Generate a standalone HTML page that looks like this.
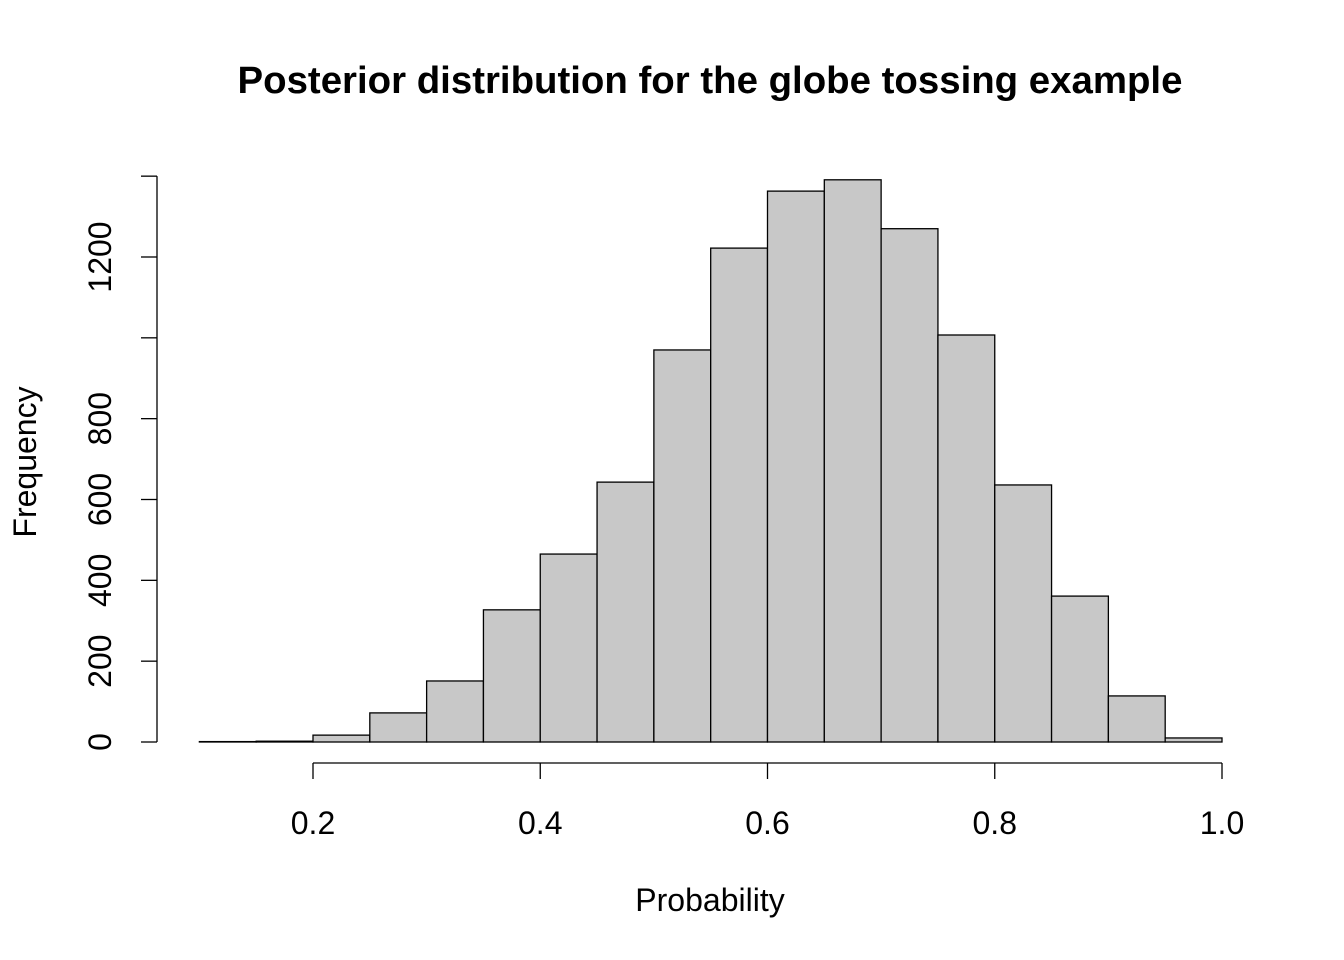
<!DOCTYPE html>
<html><head><meta charset="utf-8"><style>
body{margin:0;background:#fff;}
svg{display:block;font-family:"Liberation Sans",Arial,sans-serif;}
</style></head><body>
<svg id="chart" width="1344" height="960">
<text x="710" y="93" text-anchor="middle" font-size="38.4" font-weight="bold">Posterior distribution for the globe tossing example</text>
<text x="710" y="911" text-anchor="middle" font-size="32">Probability</text>
<text transform="translate(36,462) rotate(-90)" text-anchor="middle" font-size="32">Frequency</text>
<g id="bars"></g><g id="axes"></g>
</svg>
<script>
const binStarts=[0.10,0.15,0.20,0.25,0.30,0.35,0.40,0.45,0.50,0.55,0.60,0.65,0.70,0.75,0.80,0.85,0.90,0.95];
const counts=[1,2,17,72,151,327,465,643,970,1222,1363,1391,1270,1007,636,361,114,10];
const binWidth=0.05;
const xTicks=[0.2,0.4,0.6,0.8,1.0];
const xTickLabels=["0.2","0.4","0.6","0.8","1.0"];
const yTicks=[0,200,400,600,800,1000,1200,1400];
const yTickLabels=["0","200","400","600","800","","1200",""];
const NS="http://www.w3.org/2000/svg";
function sx(v){return 313+(v-0.2)*1136.25;}
function sy(v){return 742-v*0.40417;}
function mk(tag,attrs,parent){const e=document.createElementNS(NS,tag);for(const k in attrs)e.setAttribute(k,attrs[k]);parent.appendChild(e);return e;}
const bars=document.getElementById('bars'),axes=document.getElementById('axes');
binStarts.forEach((b,i)=>{
 const x0=sx(b),x1=sx(b+binWidth),y=sy(counts[i]);
 const r=mk('rect',{x:x0,y:y,width:x1-x0,height:742-y,fill:'#c8c8c8',stroke:'#000','stroke-width':1.3},bars);
 
 
});
const xl=mk('line',{x1:sx(xTicks[0]),x2:sx(xTicks[xTicks.length-1]),y1:763,y2:763,stroke:'#000','stroke-width':1.3},axes);


xTicks.forEach((t,i)=>{
 mk('line',{x1:sx(t),x2:sx(t),y1:763,y2:779,stroke:'#000','stroke-width':1.3},axes);
 const tx=mk('text',{x:sx(t),y:834,'text-anchor':'middle','font-size':32},axes);
 tx.textContent=xTickLabels[i];
 
 
});
const yl=mk('line',{x1:157,x2:157,y1:sy(0),y2:sy(yTicks[yTicks.length-1]),stroke:'#000','stroke-width':1.3},axes);


yTicks.forEach((t,i)=>{
 mk('line',{x1:141,x2:157,y1:sy(t),y2:sy(t),stroke:'#000','stroke-width':1.3},axes);
 if(yTickLabels[i]){
 const tx=mk('text',{transform:'translate(111,'+sy(t)+') rotate(-90)','text-anchor':'middle','font-size':32},axes);
 tx.textContent=yTickLabels[i];
 
 
 }
});
</script>
</body></html>
